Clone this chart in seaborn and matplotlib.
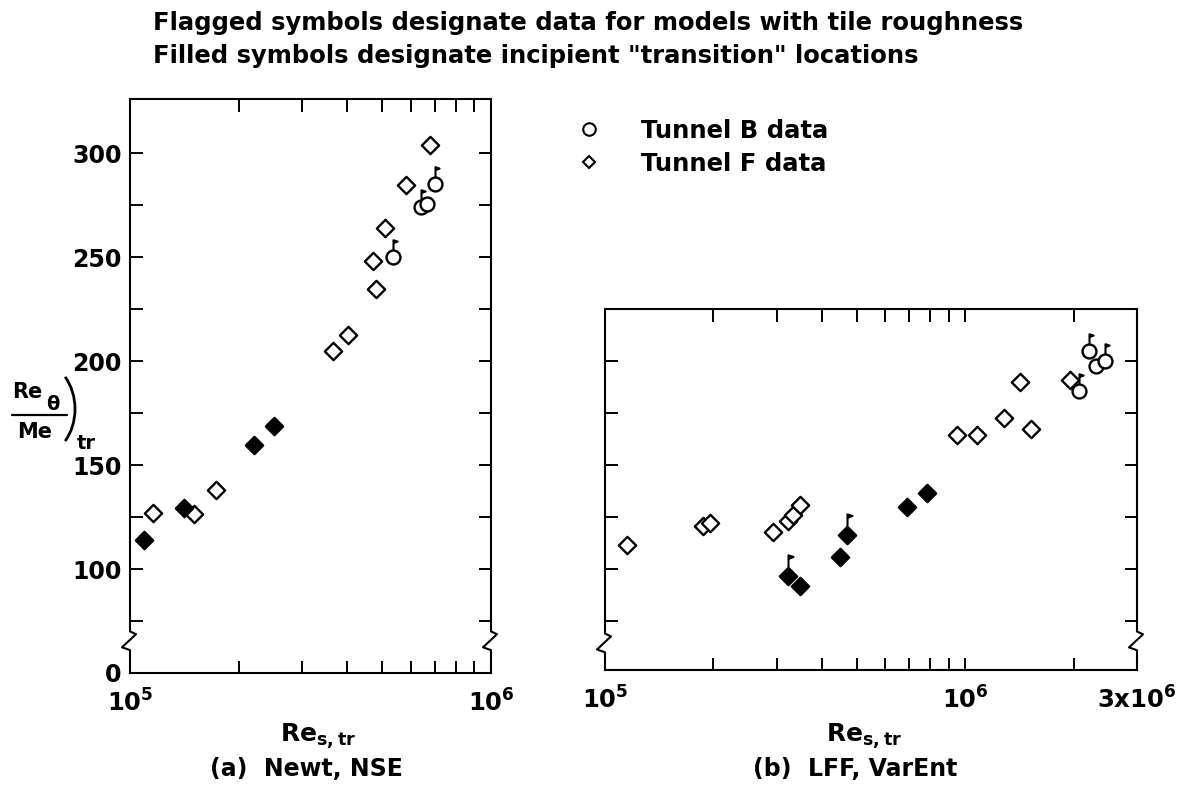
import numpy as np
import pandas as pd
import matplotlib
matplotlib.use("Agg")
import matplotlib.pyplot as plt
import matplotlib.transforms as mtransforms
import seaborn as sns
from matplotlib.path import Path
from matplotlib.markers import MarkerStyle
from matplotlib.lines import Line2D
from matplotlib.patches import Arc
from matplotlib.ticker import LogLocator, NullFormatter, FixedLocator

# ---------------- data ----------------
# (a) Newt, NSE
a_tunnel_b_x = [5.34e5, 6.39e5, 6.64e5, 6.98e5]
a_tunnel_b_y = [250, 274, 275.5, 285]
a_tunnel_b_flagged = [True, True, False, True]

a_tunnel_f_x = [1.09e5, 1.16e5, 1.41e5, 1.50e5, 1.73e5, 2.20e5, 2.51e5,
                3.64e5, 4.01e5, 4.70e5, 4.80e5, 5.08e5, 5.81e5, 6.77e5]
a_tunnel_f_y = [114, 127, 129.3, 126.4, 138, 159.6, 168.7,
                204.8, 212.5, 248, 234.6, 264, 284.6, 304]
a_tunnel_f_filled = [True, False, True, False, False, True, True,
                     False, False, False, False, False, False, False]

# (b) LFF, VarEnt
b_tunnel_b_x = [2.07e6, 2.21e6, 2.31e6, 2.45e6]
b_tunnel_b_y = [185.6, 204.8, 197.6, 200]
b_tunnel_b_flagged = [True, True, False, True]

b_tunnel_f_x = [1.15e5, 1.87e5, 1.96e5, 2.93e5, 3.22e5, 3.33e5, 3.48e5,
                3.22e5, 3.48e5, 4.50e5, 4.70e5, 6.90e5, 7.84e5,
                9.50e5, 1.08e6, 1.28e6, 1.42e6, 1.52e6, 1.96e6]
b_tunnel_f_y = [111.5, 120.7, 122, 117.8, 123, 126, 130.8,
                96.6, 91.8, 105.8, 116.3, 129.8, 136.5,
                164.4, 164.4, 172.6, 190, 167.3, 190.9]
b_tunnel_f_filled = [False, False, False, False, False, False, False,
                     True, True, True, True, True, True,
                     False, False, False, False, False, False]
b_tunnel_f_flagged = [False, False, False, False, False, False, False,
                      True, False, False, True, False, False,
                      False, False, False, False, False, False]

y_major = [50, 100, 150, 200, 250, 300]
y_major_labels = ["0", "100", "150", "200", "250", "300"]
y_minor = [75, 125, 175, 225, 275]

title_lines = ["Flagged symbols designate data for models with tile roughness",
               'Filled symbols designate incipient "transition" locations']
legend_labels = ["Tunnel B data", "Tunnel F data"]


def frame(xs, ys, tunnel, filled=None, flagged=None):
    n = len(xs)
    return pd.DataFrame({
        "Re_s_tr": xs, "Re_theta_Me": ys, "tunnel": tunnel,
        "filled": filled if filled is not None else [False] * n,
        "flagged": flagged if flagged is not None else [False] * n,
    })


panel_a = pd.concat([
    frame(a_tunnel_b_x, a_tunnel_b_y, "B", flagged=a_tunnel_b_flagged),
    frame(a_tunnel_f_x, a_tunnel_f_y, "F", filled=a_tunnel_f_filled),
], ignore_index=True)
panel_b = pd.concat([
    frame(b_tunnel_b_x, b_tunnel_b_y, "B", flagged=b_tunnel_b_flagged),
    frame(b_tunnel_f_x, b_tunnel_f_y, "F", filled=b_tunnel_f_filled,
          flagged=b_tunnel_f_flagged),
], ignore_index=True)

# ---------------- style ----------------
sns.set_style("ticks")
plt.rcParams.update({
    "font.family": ["DejaVu Sans"],
    "font.weight": "bold",
    "mathtext.fontset": "dejavusans",
    "mathtext.default": "bf",
    "axes.linewidth": 1.5,
    "axes.edgecolor": "black",
    "text.color": "black",
    "xtick.color": "black",
    "ytick.color": "black",
})

W, H = 1180, 787
fig = plt.figure(figsize=(W / 100, H / 100), dpi=100)
fig.patch.set_facecolor("white")


def px_rect(left, top, right, bottom):
    return [left / W, 1 - bottom / H, (right - left) / W, (bottom - top) / H]


def fx(px):
    return px / W


def fy(py):
    return 1 - py / H


ax_a = fig.add_axes(px_rect(130, 99, 491, 673))
ax_b = fig.add_axes(px_rect(605, 309, 1137, 670))

# marker geometry (points)
CIRCLE_D = 10.0
DIAMOND_D = 8.8
EDGE_LW = 1.7

# stem-and-pennant flag drawn above a symbol; vertices in units of symbol radius
FLAG_TOP = 2.3
flag_path = Path([(0, 1.0), (0, FLAG_TOP), (0.55, 2.12), (0, 1.93)],
                 [Path.MOVETO, Path.LINETO, Path.LINETO, Path.LINETO])
flag_marker = MarkerStyle(flag_path)


def flag_size(radius_pts):
    return (2 * FLAG_TOP * radius_pts) ** 2


def draw_panel(ax, df):
    ax.set_xscale("log")
    b = df[df.tunnel == "B"]
    f_open = df[(df.tunnel == "F") & (~df.filled)]
    f_fill = df[(df.tunnel == "F") & (df.filled)]
    sns.scatterplot(data=f_open, x="Re_s_tr", y="Re_theta_Me", ax=ax, marker="D",
                    s=DIAMOND_D ** 2, facecolor="white", edgecolor="black",
                    linewidth=EDGE_LW, legend=False, zorder=3)
    sns.scatterplot(data=f_fill, x="Re_s_tr", y="Re_theta_Me", ax=ax, marker="D",
                    s=DIAMOND_D ** 2, facecolor="black", edgecolor="black",
                    linewidth=EDGE_LW, legend=False, zorder=3)
    sns.scatterplot(data=b, x="Re_s_tr", y="Re_theta_Me", ax=ax, marker="o",
                    s=CIRCLE_D ** 2, facecolor="white", edgecolor="black",
                    linewidth=EDGE_LW, legend=False, zorder=4)
    # flags on symbols of models with tile roughness
    fb = df[(df.tunnel == "B") & df.flagged]
    ff = df[(df.tunnel == "F") & df.flagged]
    if len(fb):
        sns.scatterplot(data=fb, x="Re_s_tr", y="Re_theta_Me", ax=ax, marker=flag_marker,
                        s=flag_size(CIRCLE_D / 2 + 0.4), facecolor="black",
                        edgecolor="black", linewidth=1.5, legend=False, zorder=5)
    if len(ff):
        sns.scatterplot(data=ff, x="Re_s_tr", y="Re_theta_Me", ax=ax, marker=flag_marker,
                        s=flag_size(DIAMOND_D * 0.707 + 0.4), facecolor="black",
                        edgecolor="black", linewidth=1.5, legend=False, zorder=5)
    ax.set_xlabel("")
    ax.set_ylabel("")
    for s in ax.spines.values():
        s.set_visible(True)
        s.set_linewidth(1.5)
        s.set_color("black")
    ax.xaxis.set_minor_locator(LogLocator(base=10, subs=np.arange(2, 10)))
    ax.xaxis.set_minor_formatter(NullFormatter())
    ax.yaxis.set_major_locator(FixedLocator(y_major))
    ax.yaxis.set_minor_locator(FixedLocator(y_minor))
    ax.tick_params(which="both", direction="in", top=True, right=True,
                   length=9, width=1.4, labelsize=17)
    ax.tick_params(axis="x", which="major", pad=12, labelsize=17.5)
    ax.tick_params(axis="y", which="major", pad=6)
    ax.set_facecolor("white")


draw_panel(ax_a, panel_a)
draw_panel(ax_b, panel_b)

ax_a.set_xlim(1e5, 1e6)
ax_a.set_ylim(50, 326)
ax_a.set_xticks([1e5, 1e6], [r"$10^{5}$", r"$10^{6}$"])
ax_a.set_yticks(y_major, y_major_labels)

ax_b.set_xlim(1e5, 3e6)
ax_b.set_ylim(51.5, 225)
ax_b.set_xticks([1e5, 1e6, 3e6], [r"$10^{5}$", r"$10^{6}$", r"$3x10^{6}$"])
ax_b.yaxis.set_major_locator(FixedLocator([100, 150, 200]))
ax_b.tick_params(axis="y", labelleft=False)


# broken-scale marks on the vertical axes
def axis_break(ax, side, y_top, y_bot):
    width_px = ax.get_position().width * W
    trans = mtransforms.blended_transform_factory(ax.transAxes, ax.transData)
    x0 = 0.0 if side == "left" else 1.0
    d = lambda p: p / width_px
    ax.plot([x0, x0], [y_top, y_bot], color="white", lw=4, transform=trans,
            clip_on=False, zorder=6, solid_capstyle="butt")
    ym = y_top - 0.45 * (y_top - y_bot)
    ax.plot([x0, x0 + d(6), x0 - d(8), x0],
            [y_top, y_top - 0.15 * (y_top - y_bot), ym - 0.4 * (y_top - y_bot), y_bot],
            color="black", lw=1.5, transform=trans, clip_on=False, zorder=7)


axis_break(ax_a, "left", 70, 61)
axis_break(ax_a, "right", 70, 61)
axis_break(ax_b, "left", 69, 60)
axis_break(ax_b, "right", 70, 61)

# title lines
fig.text(fx(153), fy(23), title_lines[0], fontsize=17.5, va="center", ha="left")
fig.text(fx(153), fy(56), title_lines[1], fontsize=17.5, va="center", ha="left")

# legend
handles = [
    Line2D([], [], ls="none", marker="o", ms=9, mfc="white", mec="black", mew=1.5),
    Line2D([], [], ls="none", marker="D", ms=6.5, mfc="white", mec="black", mew=1.5),
]
fig.legend(handles, legend_labels, loc="upper left",
           bbox_to_anchor=(fx(572), fy(119)), frameon=False, fontsize=17.5,
           handlelength=1.4, handletextpad=1.45, labelspacing=0.35,
           borderpad=0, borderaxespad=0)

# x-axis titles and panel captions
fig.text(fx(318), fy(742), r"$Re_{s,tr}$", fontsize=18, ha="center", va="baseline")
fig.text(fx(306), fy(776), "(a)  Newt, NSE", fontsize=17, ha="center", va="baseline")
fig.text(fx(864), fy(742), r"$Re_{s,tr}$", fontsize=18, ha="center", va="baseline")
fig.text(fx(855), fy(776), "(b)  LFF, VarEnt", fontsize=17, ha="center", va="baseline")

# y-axis title: (Re_theta / Me)_tr
fig.text(fx(12), fy(398), "Re", fontsize=15, ha="left", va="baseline")
fig.text(fx(46), fy(410), r"$\theta$", fontsize=14, ha="left", va="baseline")
fig.add_artist(Line2D([fx(12), fx(67)], [fy(415), fy(415)], color="black", lw=1.6,
                      transform=fig.transFigure))
fig.text(fx(17), fy(438), "Me", fontsize=15, ha="left", va="baseline")
fig.add_artist(Arc((40 / 100, (H - 409) / 100), 70 / 100, 92 / 100,
                   theta1=-52, theta2=52, lw=2.0, color="black",
                   transform=fig.dpi_scale_trans))
fig.text(fx(77), fy(449), "tr", fontsize=14, ha="left", va="baseline")

fig.savefig("out.png", dpi=100, facecolor="white")
